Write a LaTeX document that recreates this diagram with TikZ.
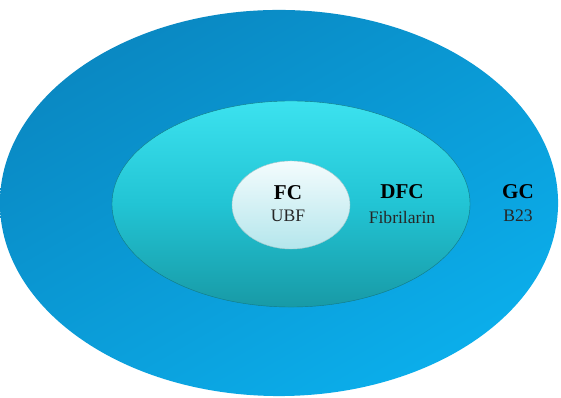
\documentclass[tikz,border=0pt]{standalone}
\usepackage{fontspec}
\setmainfont{Liberation Serif}
\usepackage{tikz}
\usetikzlibrary{positioning,calc}
\usetikzlibrary{shapes}
\definecolor{gcdark}{HTML}{0A88C2}
\definecolor{gclight}{HTML}{0BAEEB}
\definecolor{dfctop}{HTML}{3CE2EF}
\definecolor{dfcmid}{HTML}{22C4D4}
\definecolor{dfcbot}{HTML}{189AA6}
\definecolor{fctop}{HTML}{F4FCFD}
\definecolor{fcbot}{HTML}{B4E6EC}
\tikzstyle{zone} = [ellipse,inner sep=0pt]
\tikzstyle{head} = [font=\fontsize{15}{17}\selectfont\bfseries,text=black]
\tikzstyle{prot} = [font=\fontsize{12.5}{14}\selectfont,text=black!85]

\begin{document}
\begin{tikzpicture}[x=0.025cm,y=-0.025cm]
        \useasboundingbox[fill=white] (0,0) rectangle (561,398);
        \node[zone,minimum width=13.95cm,minimum height=9.65cm,
              top color=gcdark,bottom color=gclight,shading angle=30] (gc) at (279,203) {};
        \node[zone,minimum width=8.95cm,minimum height=5.15cm,draw=dfcbot!80!black,line width=0.3pt,
              top color=dfctop,bottom color=dfcbot,middle color=dfcmid] (dfc) at (291,204) {};
        \node[zone,minimum width=2.95cm,minimum height=2.2cm,draw=fcbot!70!gray,line width=0.3pt,
              top color=fctop,bottom color=fcbot] (fc) at (291,205) {};
        \node[head] (fcname) at ($(fc)+(-3,-12)$) {FC};
        \node[prot] (fcprot) at ($(fc)+(-3,11)$) {UBF};
        \node[head] (dfcname) at ($(dfc)+(111,-12)$) {DFC};
        \node[prot] (dfcprot) at ($(dfc)+(111,13)$) {Fibrilarin};
        \node[head] (gcname) at ($(gc)+(239,-11)$) {GC};
        \node[prot] (gcprot) at ($(gc)+(239,13)$) {B23};
    \end{tikzpicture}
\end{document}
